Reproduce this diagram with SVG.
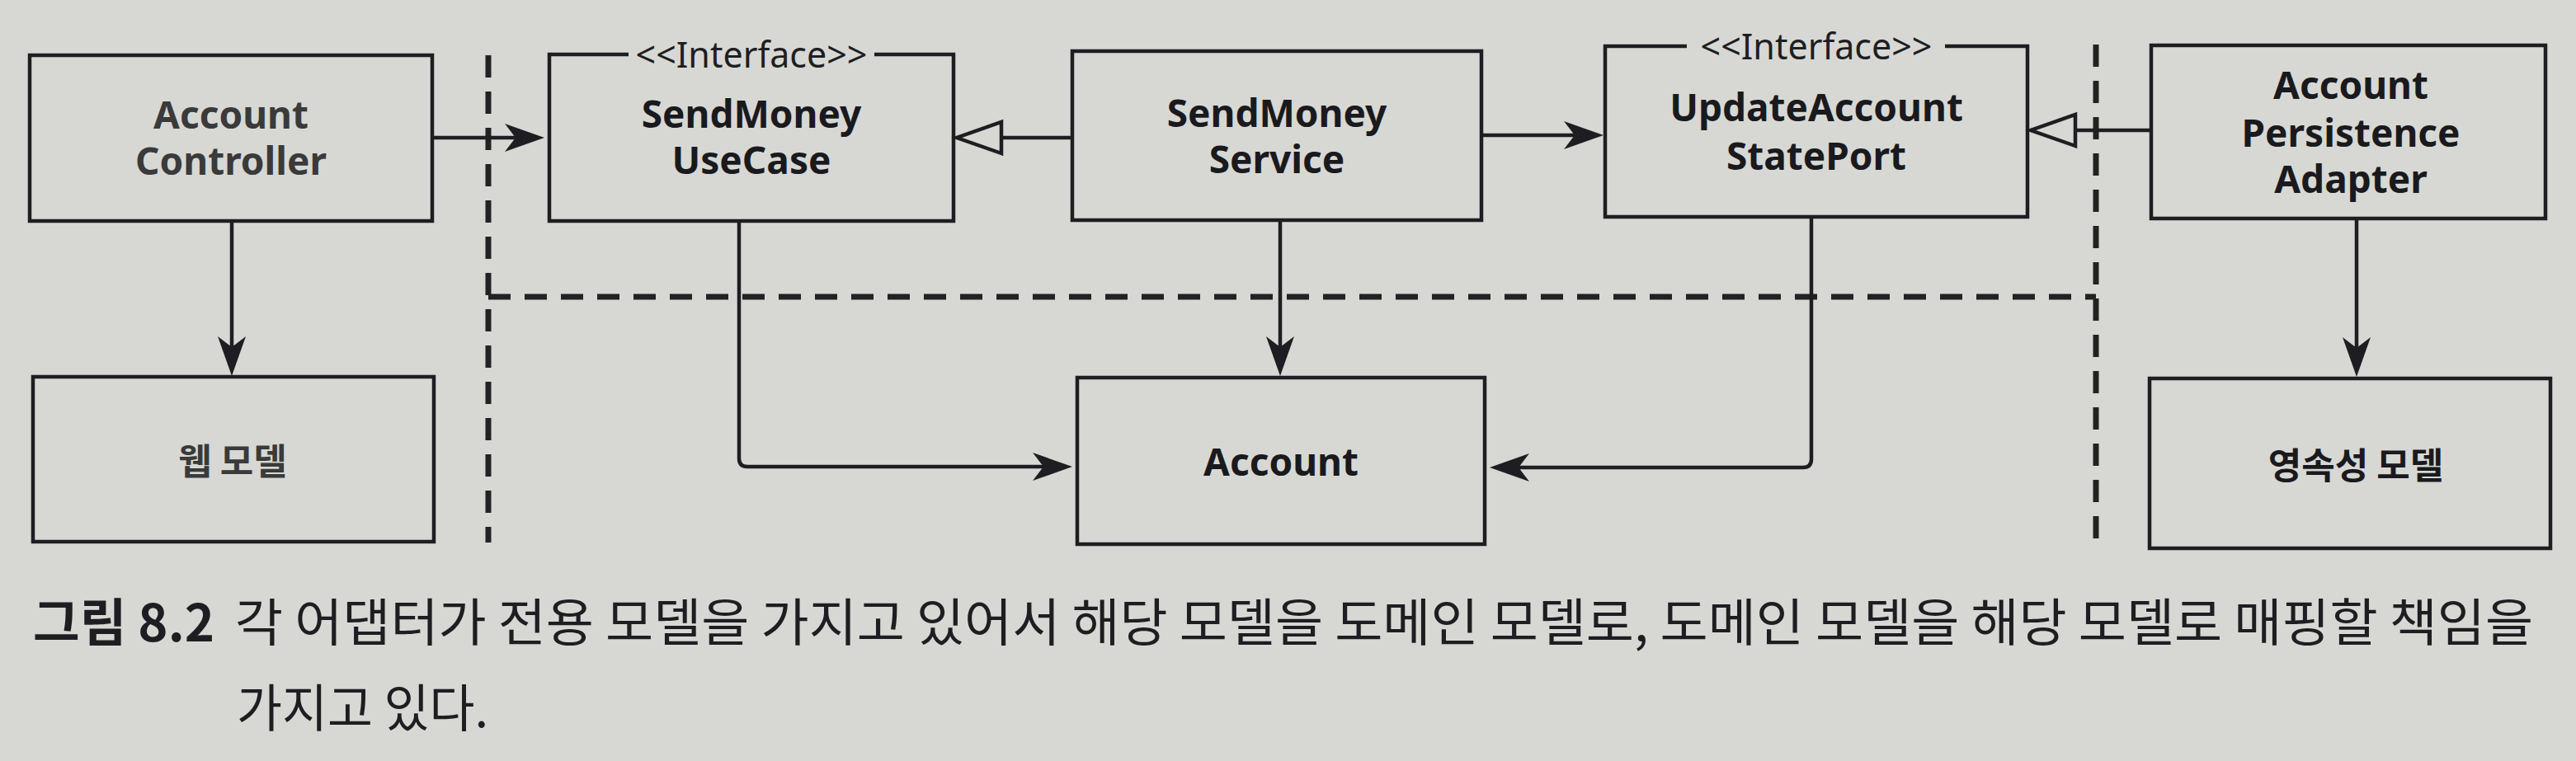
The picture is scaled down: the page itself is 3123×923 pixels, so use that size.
<svg xmlns="http://www.w3.org/2000/svg" width="3123" height="923" viewBox="0 0 3123 923">
<style>
.box{fill:none;stroke:#1e1e22;stroke-width:4.5}
.t{font-family:"Noto Sans","Noto Sans CJK KR",sans-serif;font-weight:700;font-size:46px;fill:#1a1a1e;text-anchor:middle}
.tg{fill:#3a3a3a}
.ko{font-family:"Noto Sans CJK KR",sans-serif;font-size:44px}
.st{font-family:"Noto Sans","Noto Sans CJK KR",sans-serif;font-weight:400;font-size:43px;fill:#1e1e22;text-anchor:middle}
.con{fill:none;stroke:#1e1e22;stroke-width:4.5}
.bnd{fill:none;stroke:#222;stroke-width:7;stroke-dasharray:27 17}
.cap{font-family:"Noto Sans CJK KR",sans-serif;font-size:62px;fill:#1e1e22}
</style>
<defs>
<marker id="ah" markerUnits="userSpaceOnUse" viewBox="0 0 48 34" markerWidth="48" markerHeight="34" refX="40" refY="17" orient="auto" overflow="visible">
<path d="M0,0 L48,17 L0,34 L13,17 Z" fill="#1e1e22"/>
</marker>
<marker id="tri" markerUnits="userSpaceOnUse" viewBox="0 0 54 38" markerWidth="54" markerHeight="38" refX="54" refY="19" orient="auto" overflow="visible">
<path d="M0,0 L54,19 L0,38 Z" fill="#d7d8d4" stroke="#1e1e22" stroke-width="4.5" stroke-linejoin="miter"/>
</marker>
</defs>
<rect x="0" y="0" width="3123" height="923" fill="#d7d8d4"/>

<g id="boundaries">
<path class="bnd" d="M592,67 V658"/>
<path class="bnd" d="M592,360 H2541"/>
<path class="bnd" d="M2541,54 V667"/>
</g>

<g id="connectors">
<path class="con" d="M281,268 V448" marker-end="url(#ah)"/>
<path class="con" d="M524,167 H652" marker-end="url(#ah)"/>
<path class="con" d="M1300,167 H1160" marker-end="url(#tri)"/>
<path class="con" d="M1796,164 H1936" marker-end="url(#ah)"/>
<path class="con" d="M2608,158 H2462" marker-end="url(#tri)"/>
<path class="con" d="M2857,265 V449" marker-end="url(#ah)"/>
<path class="con" d="M1552,267 V448" marker-end="url(#ah)"/>
<path class="con" d="M896,268 V556 Q896,566 906,566 H1292" marker-end="url(#ah)"/>
<path class="con" d="M2196,263 V557 Q2196,567 2186,567 H1814" marker-end="url(#ah)"/>
</g>

<g id="account-controller">
<rect class="box" x="36" y="67" width="488" height="201"/>
<text class="t tg" x="280" y="156">Account</text>
<text class="t tg" x="280" y="212">Controller</text>
</g>

<g id="web-model">
<rect class="box" x="40" y="457" width="486" height="200"/>
<text class="t tg ko" x="282" y="576">웹 모델</text>
</g>

<g id="sendmoney-usecase">
<path class="box" d="M762,66 H666 V268 H1156 V66 H1060"/>
<text class="st" x="911" y="82">&lt;&lt;Interface&gt;&gt;</text>
<text class="t" x="911" y="155">SendMoney</text>
<text class="t" x="911" y="211">UseCase</text>
</g>

<g id="sendmoney-service">
<rect class="box" x="1300" y="62" width="496" height="205"/>
<text class="t" x="1548" y="154">SendMoney</text>
<text class="t" x="1548" y="210">Service</text>
</g>

<g id="account">
<rect class="box" x="1306" y="458" width="494" height="202"/>
<text class="t" x="1553" y="577">Account</text>
</g>

<g id="update-account-state-port">
<path class="box" d="M2045,56 H1946 V263 H2458 V56 H2358"/>
<text class="st" x="2202" y="72">&lt;&lt;Interface&gt;&gt;</text>
<text class="t" x="2202" y="147">UpdateAccount</text>
<text class="t" x="2202" y="206">StatePort</text>
</g>

<g id="account-persistence-adapter">
<rect class="box" x="2608" y="55" width="478" height="210"/>
<text class="t" x="2850" y="120">Account</text>
<text class="t" x="2850" y="178">Persistence</text>
<text class="t" x="2850" y="234">Adapter</text>
</g>

<g id="persistence-model">
<rect class="box" x="2606" y="459" width="486" height="206"/>
<text class="t ko" x="2856" y="581">영속성 모델</text>
</g>

<g id="caption">
<text class="cap" x="40" y="778" font-weight="700" fill="#333" textLength="220" lengthAdjust="spacingAndGlyphs">그림 8.2</text>
<text class="cap" x="285" y="778" textLength="2786" lengthAdjust="spacingAndGlyphs">각 어댑터가 전용 모델을 가지고 있어서 해당 모델을 도메인 모델로, 도메인 모델을 해당 모델로 매핑할 책임을</text>
<text class="cap" x="287" y="882" textLength="305" lengthAdjust="spacingAndGlyphs">가지고 있다.</text>
</g>
</svg>
